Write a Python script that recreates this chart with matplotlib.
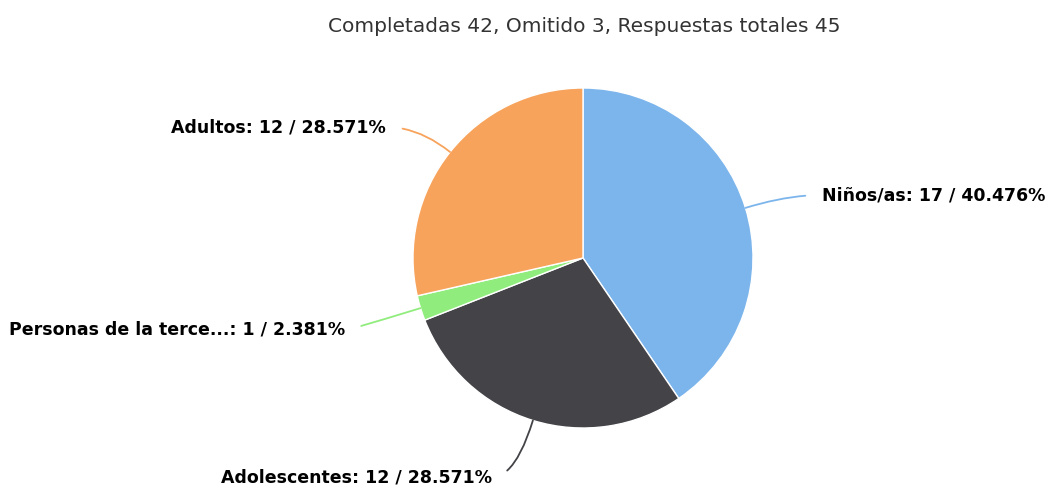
import numpy as np
import matplotlib.pyplot as plt

# survey answers (count per group)
labels = ['Niños/as', 'Adolescentes', 'Personas de la terce...', 'Adultos']
counts = [17, 12, 1, 12]
colors = ['#7cb5ec', '#434348', '#90ed7d', '#f7a35c']

W, H = 1058, 488
cx, cy, r = 583, H - 258, 170

# label anchor positions (pixels, y measured from the bottom) and alignment
label_pos = {
    'Niños/as': (822, H - 195, 'left'),
    'Adolescentes': (492, H - 477, 'right'),
    'Personas de la terce...': (345, H - 330, 'right'),
    'Adultos': (386, H - 127, 'right'),
}

fig = plt.figure(figsize=(W / 100, H / 100), dpi=100)
ax = fig.add_axes([0, 0, 1, 1])

ax.pie(counts, colors=colors, startangle=90, counterclock=False,
       center=(cx, cy), radius=r, frame=True,
       wedgeprops=dict(edgecolor='white', linewidth=1))
ax.set_xlim(0, W)
ax.set_ylim(0, H)
ax.set_aspect('equal')
ax.axis('off')

total = sum(counts)
start = 0.0
for lab, n, col in zip(labels, counts, colors):
    frac = n / total
    mid = (start + frac / 2) * 360.0   # clockwise from top
    start += frac
    th = np.radians(mid)
    ex = cx + r * np.sin(th)
    ey = cy + r * np.cos(th)
    tx, ty, ha = label_pos[lab]
    line_ang = (90 - mid) % 180
    txt = '%s: %d / %.3f%%' % (lab, n, frac * 100)
    ax.annotate(txt, xy=(ex, ey), xytext=(tx, ty), ha=ha, va='center',
                fontsize=12.5, fontweight='bold', color='#000000',
                arrowprops=dict(arrowstyle='-', color=col, lw=1.3,
                                shrinkA=10, shrinkB=0,
                                relpos=(0, 0.5) if ha == 'left' else (1, 0.5),
                                connectionstyle='angle3,angleA=0,angleB=%.1f' % line_ang))

ax.text(584, H - 27, 'Completadas 42, Omitido 3, Respuestas totales 45',
        ha='center', va='center', fontsize=14.5, color='#333333')

plt.savefig('out.png', dpi=100)
